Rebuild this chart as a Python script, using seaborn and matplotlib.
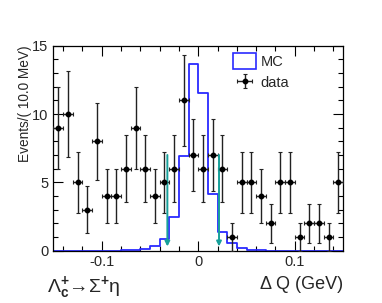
import numpy as np
import pandas as pd
import matplotlib
matplotlib.use("Agg")
import matplotlib.pyplot as plt
from matplotlib.patches import Patch
from matplotlib.ticker import MultipleLocator
import seaborn as sns

# bins of Delta Q (GeV), 10 MeV wide
bin_edges = [round(-0.15 + 0.01 * i, 3) for i in range(31)]
bin_centers = [round(e + 0.005, 3) for e in bin_edges[:-1]]

data_counts = [9, 10, 5, 3, 8, 4, 4, 6, 9, 6, 4, 5, 6, 11, 7,
               6, 7, 6, 1, 5, 5, 4, 2, 5, 5, 1, 2, 2, 1, 5]

mc_counts = [0, 0, 0, 0, 0, 0, 0, 0.02, 0.05, 0.12, 0.3, 0.88, 2.49, 6.93, 13.7,
             11.55, 4.14, 1.34, 0.54, 0.17, 0.05, 0.02, 0, 0, 0, 0, 0, 0, 0, 0]

cut_low = -0.032
cut_high = 0.0215
cut_top = 7.0

def main():
    sns.set_style("ticks")
    plt.rcParams["font.family"] = ["Liberation Sans", "DejaVu Sans"]
    plt.rcParams["mathtext.fontset"] = "custom"
    plt.rcParams["mathtext.rm"] = "Liberation Sans"
    plt.rcParams["mathtext.it"] = "Liberation Sans:italic"
    plt.rcParams["mathtext.bf"] = "Liberation Sans:bold"

    df = pd.DataFrame({"dq": bin_centers, "mc": mc_counts, "n": data_counts})

    fig = plt.figure(figsize=(3.82, 3.03), dpi=100)
    ax = fig.add_axes([0.140, 0.173, 0.758, 0.676])

    # MC histogram as open blue step
    sns.histplot(data=df, x="dq", weights="mc", bins=bin_edges, element="step",
                 fill=False, color="#2a2aff", linewidth=1.3, ax=ax)

    # data points with sqrt(N) errors
    yerr = np.sqrt(df["n"].values)
    eb = ax.errorbar(df["dq"], df["n"], xerr=0.005, yerr=yerr, fmt="o",
                     color="black", ecolor="#222222", markersize=3.2, elinewidth=1,
                     capsize=1.5, capthick=0.8, zorder=3)

    # cut arrows
    for xc in (cut_low, cut_high):
        ax.annotate("", xy=(xc, 0.3), xytext=(xc, cut_top),
                    arrowprops=dict(arrowstyle="-|>", color="#17a09a", lw=1.4,
                                    mutation_scale=7, shrinkA=0, shrinkB=0))

    ax.set_xlim(-0.15, 0.15)
    ax.set_ylim(0, 15)
    ax.xaxis.set_minor_locator(MultipleLocator(0.02))
    ax.yaxis.set_major_locator(MultipleLocator(5))
    ax.yaxis.set_minor_locator(MultipleLocator(1))
    ax.set_xticks([-0.1, 0, 0.1])
    ax.set_xticklabels(["-0.1", "0", "0.1"])
    ax.tick_params(which="both", direction="in", top=True, right=True,
                   labelsize=10.5, width=0.8, color="black")
    ax.tick_params(which="major", length=7)
    ax.tick_params(which="minor", length=3.5)
    for s in ax.spines.values():
        s.set_linewidth(0.9)
        s.set_color("black")

    ax.set_xlabel("")
    ax.set_ylabel("Events/( 10.0 MeV)", fontsize=9.8)
    ax.yaxis.set_label_coords(-0.075, 0.715)

    fig.text(0.898, 0.045, "\u0394 Q (GeV)", ha="right", va="baseline", fontsize=13)
    fig.text(0.123, 0.037,
             r"$\mathrm{\Lambda}_{\mathbf{c}}^{\mathbf{+}}$" "\u2192" r"$\mathrm{\Sigma}^{\mathbf{+}}$" "\u03b7",
             ha="left", va="baseline", fontsize=14)

    handles = [Patch(facecolor="none", edgecolor="#2a2aff", linewidth=1.2), eb]
    ax.legend(handles, ["MC", "data"], loc="upper left", bbox_to_anchor=(0.575, 1.03),
              frameon=False, fontsize=10.5, handlelength=1.6, handleheight=1.3,
              handletextpad=0.3, labelspacing=0.4)

    fig.savefig("out.png", dpi=100)

if __name__ == "__main__":
    main()
